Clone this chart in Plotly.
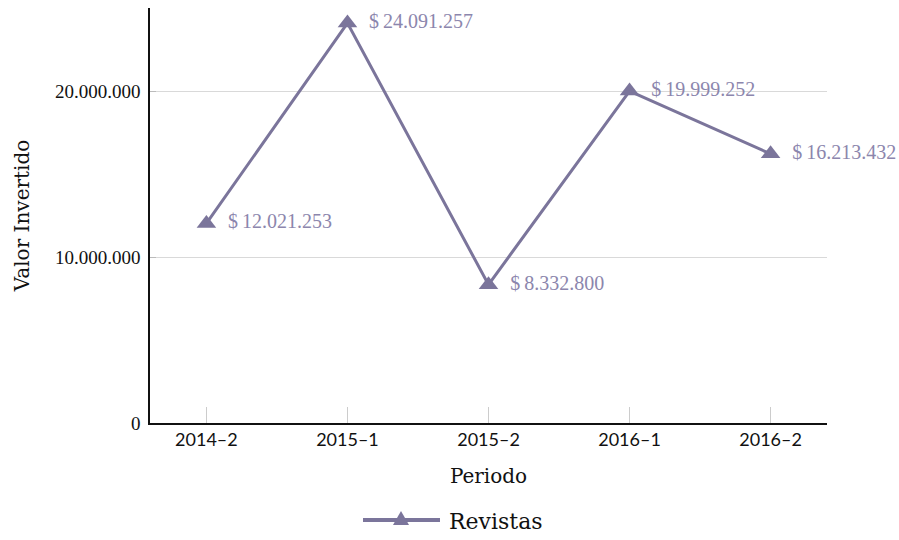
import plotly.graph_objects as go

# Inversión por periodo en revistas
periodos = ["2014\u20132", "2015\u20131", "2015\u20132", "2016\u20131", "2016\u20132"]
valores = [12021253, 24091257, 8332800, 19999252, 16213432]
serie = "Revistas"
y_ticks = [0, 10000000, 20000000]
y_tick_text = ["0", "10.000.000", "20.000.000"]

LINE = "#7b759b"
LABEL = "#8c86ad"
SERIF = "Liberation Serif"
SLAB = "DejaVu Serif"


def fmt(v):
    return "\u2002$\u2009" + f"{v:,}".replace(",", ".")


fig = go.Figure()
fig.add_trace(go.Scatter(
    x=periodos, y=valores, mode="lines+markers+text",
    line=dict(color=LINE, width=3),
    marker=dict(symbol="triangle-up", size=17, color=LINE),
    text=[fmt(v) for v in valores], textposition="middle right",
    textfont=dict(family=SERIF, size=20, color=LABEL),
    name=serie, showlegend=False, cliponaxis=False,
))

# Plot area geometry in pixels (used for the hand-drawn legend)
W, H = 899, 540
L, R, T, B = 150, 72, 8, 117
pw, ph = W - L - R, H - T - B


def px(x):
    return (x - L) / pw


def py(y):
    return (H - B - y) / ph


leg_y = 520
fig.add_shape(type="line", xref="paper", yref="paper",
              x0=px(363), x1=px(440), y0=py(leg_y), y1=py(leg_y),
              line=dict(color=LINE, width=4))
fig.add_shape(type="path", xref="paper", yref="paper",
              xsizemode="pixel", ysizemode="pixel",
              xanchor=px(401), yanchor=py(leg_y),
              path="M -8,-5 L 8,-5 L 0,9 Z",
              fillcolor=LINE, line=dict(width=0))
fig.add_annotation(xref="paper", yref="paper", x=px(447), y=py(leg_y + 1),
                   text=serie, showarrow=False, xanchor="left", yanchor="middle",
                   font=dict(family=SLAB, size=22, color="#111111"))

fig.update_layout(
    width=W, height=H,
    margin=dict(l=L, r=R, t=T, b=B),
    paper_bgcolor="white", plot_bgcolor="white",
    showlegend=False,
)
fig.update_xaxes(
    type="category", range=[-0.4, 4.4],
    showline=True, linecolor="#111111", linewidth=1.5,
    showgrid=False, ticks="inside", ticklen=16, tickcolor="#cccccc", tickwidth=1,
    tickfont=dict(family="Lato", size=18, color="#111111"),
    title=dict(text="Periodo", font=dict(family=SLAB, size=20, color="#111111"), standoff=20),
)
fig.update_yaxes(
    range=[0, 25000000], tickvals=y_ticks, ticktext=y_tick_text,
    showline=True, linecolor="#111111", linewidth=1.5,
    showgrid=True, gridcolor="#d9d9d9", gridwidth=1,
    ticks="inside", ticklen=6, tickcolor="#bbbbbb",
    tickfont=dict(family=SERIF, size=19, color="#111111"),
    ticklabelstandoff=4, zeroline=False,
    title=dict(text="Valor Invertido", font=dict(family=SLAB, size=20, color="#111111"), standoff=20),
)

fig.write_html("out.html")
